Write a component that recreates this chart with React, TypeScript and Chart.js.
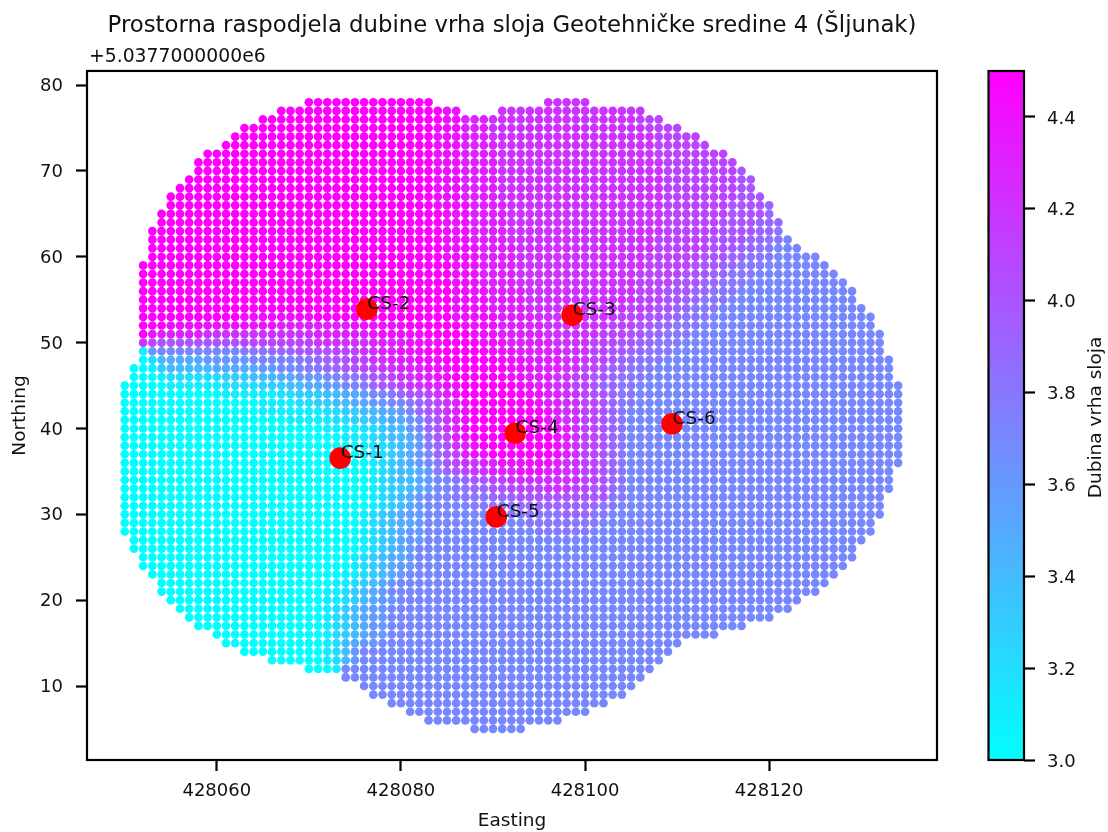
import React, { useEffect, useRef } from "react";
import { Chart, registerables } from "chart.js";

Chart.register(...registerables);

const TITLE = "Prostorna raspodjela dubine vrha sloja Geotehničke sredine 4 (Šljunak)";
const X_LABEL = "Easting";
const Y_LABEL = "Northing";
const BAR_LABEL = "Dubina vrha sloja";
const OFFSET_TEXT = "+5.0377000000e6";
const FONT = "'DejaVu Sans'";

const EAST_BASE = 428000;
const NORTH_BASE = 5037700;
const xTicks = [428060, 428080, 428100, 428120];
const yTicks = [10, 20, 30, 40, 50, 60, 70, 80];
const barTicks = [3.0, 3.2, 3.4, 3.6, 3.8, 4.0, 4.2, 4.4];

const boreNames = ["CS-1", "CS-2", "CS-3", "CS-4", "CS-5", "CS-6"];
const boreEast = [73.4, 76.3, 98.6, 92.4, 90.35, 109.45];
const boreNorth = [36.55, 53.9, 53.2, 39.45, 29.7, 40.55];

// depth of the layer for each level letter a..p
const levelDepths = [3.0, 3.1, 3.2, 3.3, 3.4, 3.5, 3.6, 3.7, 3.8, 3.9, 4.0, 4.1, 4.2, 4.3, 4.4, 4.5];

// grid rows: northing offset, first easting offset, runs of "<level><last easting>" ("_" = no points)
const rowNorth = [78,77,76,75,74,73,72,71,70,69,68,67,66,65,64,63,62,61,60,59,58,57,56,55,54,53,52,51,50,49,48,47,46,45,44,43,42,41,40,39,38,37,36,35,34,33,32,31,30,29,28,27,26,25,24,23,22,21,20,19,18,17,16,15,14,13,12,11,10,9,8,7,6,5];
const rowStart = [70,67,65,63,62,61,59,58,58,57,56,55,55,54,54,53,53,53,53,52,52,52,52,52,52,52,52,52,52,52,52,51,51,50,50,50,50,50,50,50,50,50,50,50,50,50,50,50,50,50,50,51,51,52,52,53,54,54,55,56,57,58,60,61,63,66,70,74,76,77,79,81,83,88];
const rowRuns = [
  "p83 _95 m100",
  "p84 o86 _90 m106",
  "p84 o86 n89 m105 l108",
  "p83 o86 n89 m106 l110",
  "p83 o86 n89 m107 l112",
  "p83 o86 n90 m107 l113",
  "p83 o86 n90 m107 l115",
  "p83 o86 n90 m108 l116",
  "p83 o86 n90 m108 l116 k117",
  "p83 o86 n90 m108 l116 k118",
  "p83 o86 n90 m108 l116 k118",
  "p83 o86 n90 m108 l116 k119",
  "p83 o87 n91 m108 l115 k119 j120",
  "p84 o87 n91 m108 l115 k119 j120",
  "p84 o87 n91 m108 l114 k118 j121",
  "p84 o87 n91 m108 l114 k118 j120 i121",
  "p84 o87 n91 m107 l113 k117 j119 i121 h122",
  "p84 o88 n92 m107 l113 k116 j118 i120 h123",
  "p84 o88 n92 m106 l112 k115 j117 i120 h125",
  "p85 o88 n92 m106 l111 k114 j116 i119 h126",
  "p85 o88 n92 m105 l110 k113 j115 i118 h127",
  "p85 o88 n92 m105 l109 k112 j114 i117 h128",
  "p85 o89 n93 m105 l108 k111 j113 i116 h129",
  "p85 o89 n93 m105 l108 k110 j112 i115 h129",
  "p85 o89 n93 m104 l107 k109 j111 i114 h130",
  "p62 o70 p85 o90 n94 m103 l106 k108 j110 i113 h131",
  "p54 o66 n74 o80 p86 o90 n95 m102 l105 k107 j109 i112 h131",
  "p52 o53 n58 m70 n76 o82 p87 o90 n95 m101 l104 k106 j108 i111 h132",
  "m52 l53 k62 l70 m76 n80 o84 p88 o91 n96 m100 l103 k105 j107 i110 h132",
  "b52 g53 h62 i65 j68 k72 l75 m77 n79 o82 p89 o92 n97 m100 l102 k104 j106 i109 h132",
  "a52 c53 e54 f58 g63 h68 i70 j72 k74 l76 m78 n81 o84 p90 o93 n97 m100 l102 k103 j105 i108 h133",
  "a52 b53 d54 e59 f64 g66 h69 i71 j73 k75 l77 m79 n82 o85 p91 o94 n97 m99 l101 k102 j104 i107 h133",
  "a53 b54 c60 d63 e66 f68 g71 h73 i75 j76 k78 l79 m81 n83 o85 p91 o93 n96 m98 l100 k102 j103 i106 h133",
  "a54 b60 c64 d67 e69 f71 g73 h75 i76 j77 k79 l80 m82 n84 o86 p92 o94 n96 m98 l100 k101 j103 i105 h134",
  "a60 b66 c68 d71 e73 f75 g76 h78 i79 j80 k82 l83 m84 n85 o86 p93 o95 n97 m99 l100 k102 j103 i105 h134",
  "a64 b68 c70 d72 e74 f76 g78 h80 i81 j82 k83 l84 m85 n86 o87 p94 o95 n97 m99 l101 k102 j103 i105 h134",
  "a64 b71 c73 d75 e77 f79 g80 h81 j82 k83 l84 m85 n86 o87 p95 o96 n97 m99 l101 k102 j103 i104 h134",
  "a67 b72 c74 d76 e78 f80 g81 h82 j83 k84 m85 n86 o87 p95 o96 n97 m99 l101 k102 j103 i104 h134",
  "a71 b75 c77 d78 e80 g81 h82 j83 k84 m85 n86 o87 p96 o97 n98 m99 l101 k102 j103 i104 h134",
  "a73 b76 c77 d78 e80 f81 g82 i83 k84 l85 n86 o87 p96 o97 n98 m99 l101 k102 j103 i104 h134",
  "a74 b76 c78 d79 e80 f81 g82 i83 j84 k85 m86 n87 o88 p96 o97 n98 m99 l101 k102 j103 i104 h134",
  "a75 b76 c78 d79 e80 f81 g82 h83 j84 k85 l86 n87 o89 p96 o97 n98 m99 l101 k102 j103 i104 h134",
  "a76 b77 c78 d79 e80 f81 g82 h83 i84 k85 l86 m88 n90 o96 n97 m99 l101 k102 j103 i104 h134",
  "a76 b77 c78 d79 e81 f82 g83 i84 j85 k86 l87 m89 n92 o95 n97 m99 l101 k102 j103 i104 h133",
  "a76 b77 c78 d79 e81 f82 g83 h85 i86 j87 k89 l91 m99 l101 k102 j103 i104 h133",
  "a76 b77 c78 d80 e81 f82 g83 h85 i87 j89 k91 l95 m98 l100 k102 j103 i104 h133",
  "a76 b77 c78 d79 e80 f81 g82 h85 i89 j92 k102 i104 h132",
  "a76 b77 c78 d79 e80 f81 g82 h87 i92 j101 i103 h132",
  "a75 b76 c77 d78 e79 f80 g82 h91 i97 j100 i102 h132",
  "a75 b76 c77 d78 e79 f81 g82 h93 i101 h131",
  "a75 b76 c77 d78 e79 f80 g82 h94 i100 h131",
  "a75 b76 c77 d78 e79 f80 g82 h130",
  "a75 b76 c77 d78 e79 f80 g81 h129",
  "a74 b75 c76 d77 e78 f80 g81 h129",
  "a74 b75 c76 d77 e78 f79 g81 h128",
  "a73 b75 c76 d77 e78 f79 g80 h127",
  "a72 b74 c75 d76 e77 f78 g79 h126",
  "a71 b73 c74 d75 e76 f77 g78 h125",
  "a71 b73 c74 d75 e76 f77 g79 h123",
  "a71 b72 c73 d74 e75 f76 g78 h122",
  "a71 b72 c73 d74 e75 f76 g78 h120",
  "a71 b72 c73 d74 e75 f76 g78 h117",
  "a71 b72 c73 d74 e75 f76 g78 h114",
  "a71 b72 c73 e74 f75 g77 h110",
  "a71 b72 c73 e74 g75 h109",
  "a71 b72 c73 e74 g75 h108",
  "a72 b73 h107",
  "h106",
  "h105",
  "h104",
  "h102",
  "h100",
  "h97",
  "h93",
];

const DEPTH_MIN = 3.0;
const DEPTH_MAX = 4.5;

const coolColor = (v: number) => {
  const t = Math.min(1, Math.max(0, (v - DEPTH_MIN) / (DEPTH_MAX - DEPTH_MIN)));
  return `rgb(${Math.round(255 * t)},${Math.round(255 * (1 - t))},255)`;
};

const gridPoints: { x: number; y: number }[] = [];
const gridColors: string[] = [];
rowRuns.forEach((runs, i) => {
  let x = rowStart[i];
  runs.split(" ").forEach((run) => {
    const letter = run[0];
    const last = Number(run.slice(1));
    for (; x <= last; x++) {
      if (letter === "_") continue;
      gridPoints.push({ x: EAST_BASE + x, y: NORTH_BASE + rowNorth[i] });
      gridColors.push(coolColor(levelDepths[letter.charCodeAt(0) - 97]));
    }
  });
});

const frame = {
  id: "frame",
  afterDraw(chart: any) {
    const { ctx, chartArea: a } = chart;
    ctx.save();
    ctx.strokeStyle = "#000";
    ctx.lineWidth = 2.2;
    ctx.strokeRect(a.left, a.top, a.right - a.left, a.bottom - a.top);
    ctx.restore();
  },
};

const mapText = {
  id: "mapText",
  afterDatasetsDraw(chart: any) {
    const { ctx, scales } = chart;
    ctx.save();
    ctx.fillStyle = "#111";
    ctx.font = `18.5px ${FONT}`;
    ctx.textBaseline = "alphabetic";
    ctx.textAlign = "left";
    boreNames.forEach((name, i) => {
      ctx.fillText(
        name,
        scales.x.getPixelForValue(EAST_BASE + boreEast[i]) + 0.5,
        scales.y.getPixelForValue(NORTH_BASE + boreNorth[i])
      );
    });
    ctx.font = `18.8px ${FONT}`;
    ctx.fillText(OFFSET_TEXT, chart.chartArea.left + 2, 62);
    ctx.restore();
  },
};

const barLabel = {
  id: "barLabel",
  afterDraw(chart: any) {
    const { ctx, chartArea: a } = chart;
    ctx.save();
    ctx.translate(136.5, (a.top + a.bottom) / 2 + 2);
    ctx.rotate(-Math.PI / 2);
    ctx.fillStyle = "#111";
    ctx.font = `18.5px ${FONT}`;
    ctx.textAlign = "center";
    ctx.textBaseline = "middle";
    ctx.fillText(BAR_LABEL, 0, 0);
    ctx.restore();
  },
};

const tickGrid = {
  drawOnChartArea: false,
  drawTicks: true,
  tickLength: 11,
  tickWidth: 2.2,
  tickColor: "#000",
};

export default function App() {
  const mapRef = useRef<HTMLCanvasElement>(null);
  const barRef = useRef<HTMLCanvasElement>(null);

  useEffect(() => {
    document.body.style.margin = "0";
    const map = new Chart(mapRef.current as any, {
      type: "scatter",
      data: {
        datasets: [
          {
            label: "Bušotine",
            data: boreEast.map((x, i) => ({ x: EAST_BASE + x, y: NORTH_BASE + boreNorth[i] })),
            backgroundColor: "#ff0000",
            pointRadius: 10.8,
            pointBorderWidth: 0,
            order: 0,
          },
          {
            label: "Dubina",
            data: gridPoints,
            backgroundColor: gridColors,
            pointRadius: 4.35,
            pointBorderWidth: 0,
            order: 1,
          },
        ],
      },
      options: {
        responsive: false,
        animation: false,
        events: [],
        layout: { padding: { top: 0, right: 171, left: 0, bottom: 0 } },
        plugins: {
          legend: { display: false },
          tooltip: { enabled: false },
          title: {
            display: true,
            text: TITLE,
            fullSize: false,
            color: "#111",
            font: { family: FONT, size: 22.8, weight: "normal", lineHeight: 1.2 },
            padding: { top: 12.4, bottom: 31.2 },
          },
        },
        scales: {
          x: {
            type: "linear",
            min: EAST_BASE + 45.9,
            max: EAST_BASE + 138.23,
            afterBuildTicks: (s: any) => {
              s.ticks = xTicks.map((value) => ({ value }));
            },
            afterFit: (s: any) => {
              s.height = 72;
            },
            grid: tickGrid,
            border: { display: false },
            ticks: {
              color: "#111",
              padding: 10,
              maxRotation: 0,
              font: { family: FONT, size: 18 },
              callback: (v: any) => String(v),
            },
            title: {
              display: true,
              text: X_LABEL,
              color: "#111",
              font: { family: FONT, size: 18.5 },
              padding: { top: 0, bottom: 0 },
            },
          },
          y: {
            type: "linear",
            min: NORTH_BASE + 1.38,
            max: NORTH_BASE + 81.65,
            afterBuildTicks: (s: any) => {
              s.ticks = yTicks.map((v) => ({ value: NORTH_BASE + v }));
            },
            afterFit: (s: any) => {
              s.width = 87;
            },
            grid: tickGrid,
            border: { display: false },
            ticks: {
              color: "#111",
              padding: 13,
              labelOffset: 1.5,
              font: { family: FONT, size: 18 },
              callback: (v: any) => String(Number(v) - NORTH_BASE),
            },
            title: {
              display: true,
              text: Y_LABEL,
              color: "#111",
              font: { family: FONT, size: 18.5 },
              padding: { top: 9, bottom: 0 },
            },
          },
        },
      },
      plugins: [frame, mapText],
    } as any);

    const bar = new Chart(barRef.current as any, {
      type: "bar",
      data: {
        labels: [BAR_LABEL],
        datasets: [
          {
            label: BAR_LABEL,
            data: [[DEPTH_MIN, DEPTH_MAX]],
            barPercentage: 1,
            categoryPercentage: 1,
            borderWidth: 0,
            backgroundColor: (c: any) => {
              const a = c.chart.chartArea;
              if (!a) return coolColor(DEPTH_MIN);
              const g = c.chart.ctx.createLinearGradient(0, a.bottom, 0, a.top);
              g.addColorStop(0, coolColor(DEPTH_MIN));
              g.addColorStop(1, coolColor(DEPTH_MAX));
              return g;
            },
          },
        ],
      },
      options: {
        responsive: false,
        animation: false,
        events: [],
        layout: { padding: { top: 71, left: 28.5, right: 0, bottom: 72 } },
        plugins: { legend: { display: false }, tooltip: { enabled: false }, title: { display: false } },
        scales: {
          x: { display: false },
          y: {
            position: "right",
            min: DEPTH_MIN,
            max: DEPTH_MAX,
            afterBuildTicks: (s: any) => {
              s.ticks = barTicks.map((value) => ({ value }));
            },
            afterFit: (s: any) => {
              s.width = 84;
            },
            grid: tickGrid,
            border: { display: false },
            ticks: {
              color: "#111",
              padding: 12,
              labelOffset: 2,
              font: { family: FONT, size: 18 },
              callback: (v: any) => Number(v).toFixed(1),
            },
          },
        },
      },
      plugins: [frame, barLabel],
    } as any);

    return () => {
      map.destroy();
      bar.destroy();
    };
  }, []);

  return (
    <div style={{ position: "relative", width: 1108, height: 832, background: "#fff", overflow: "hidden" }}>
      <canvas ref={mapRef} width={1108} height={832} style={{ position: "absolute", left: 0, top: 0 }} />
      <canvas ref={barRef} width={148} height={832} style={{ position: "absolute", left: 960, top: 0 }} />
    </div>
  );
}
